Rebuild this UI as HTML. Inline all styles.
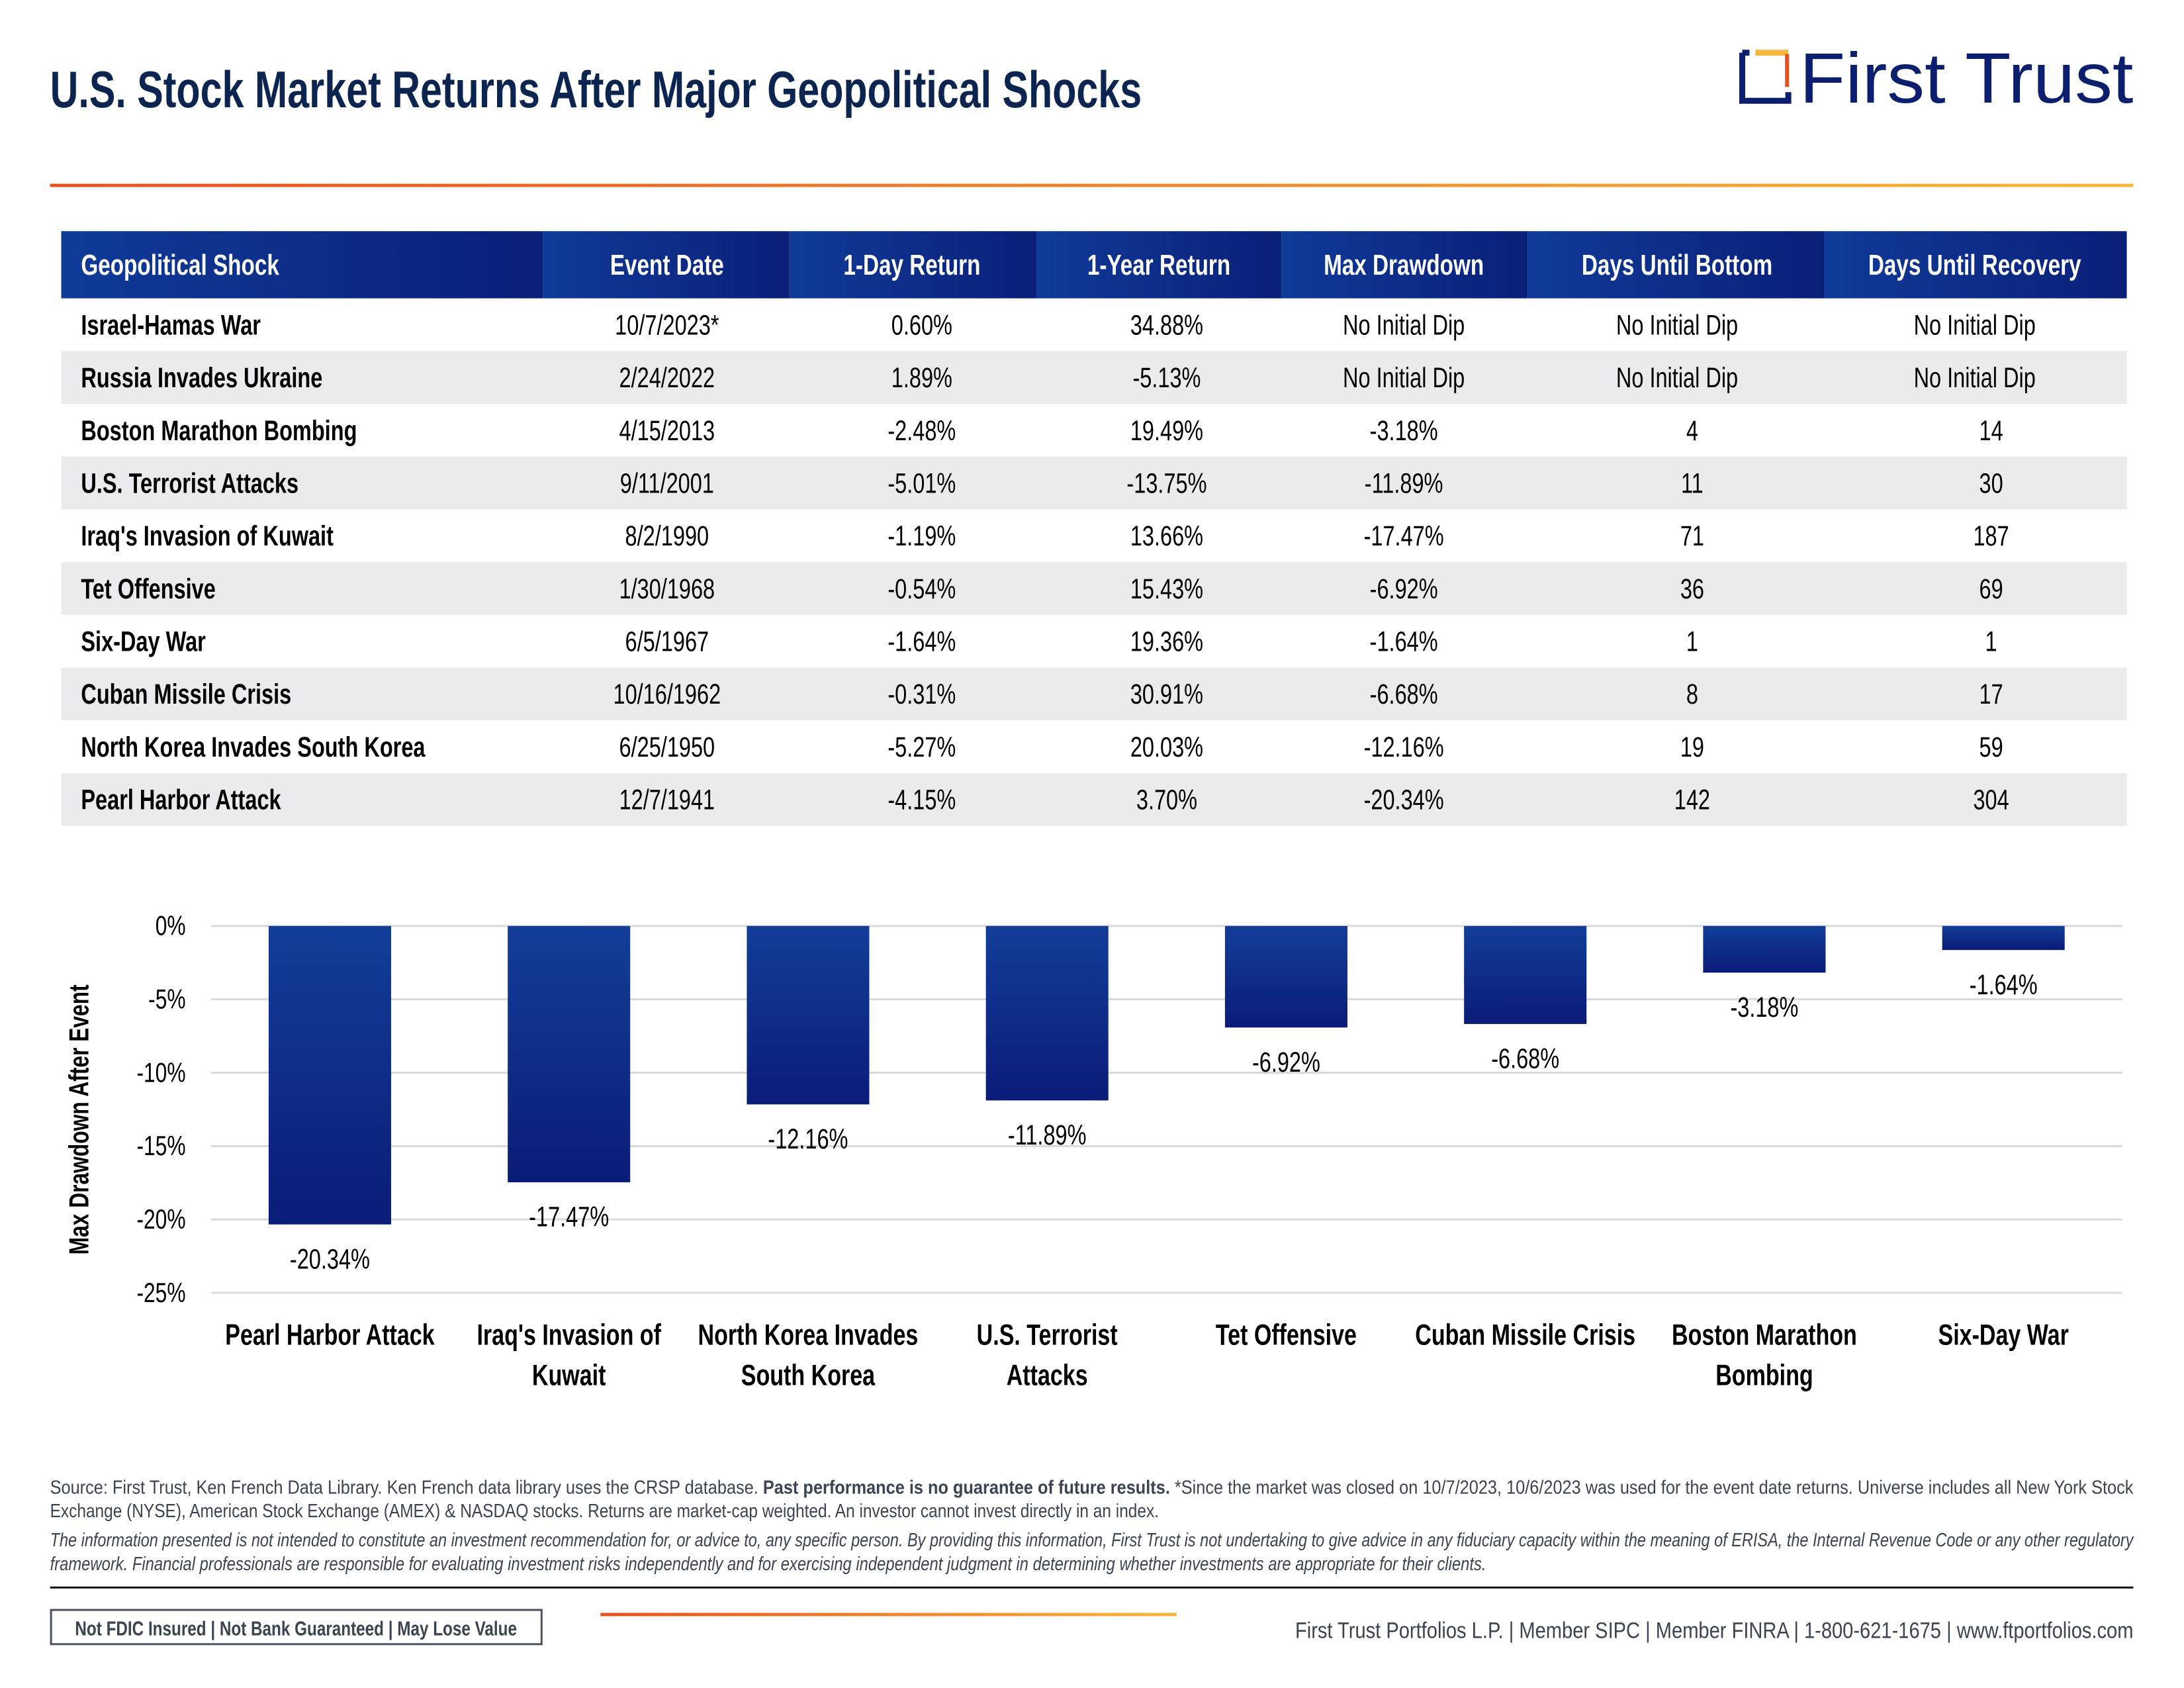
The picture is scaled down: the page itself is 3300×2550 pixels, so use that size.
<!DOCTYPE html>
<html><head><meta charset="utf-8"><style>
html,body{margin:0;padding:0;background:#fff;width:3300px;height:2550px;overflow:hidden}
svg{display:block}
text{font-family:"Liberation Sans Narrow","Liberation Sans",sans-serif}
.h{font-weight:bold;fill:#fff;font-size:44px}
.n{font-weight:bold;fill:#000;font-size:43px}
.v{fill:#000;font-size:43px}
.tk{fill:#000;font-size:42px}
.lb{fill:#000;font-size:43px}
.cat{font-weight:bold;fill:#000;font-size:45px}
.ft{fill:#3b4452;font-size:29px}
</style></head><body>
<svg width="3300" height="2550" viewBox="0 0 3300 2550" xmlns="http://www.w3.org/2000/svg">
<defs>
<linearGradient id="og" x1="0" x2="1" y1="0" y2="0"><stop offset="0" stop-color="#e5511f"/><stop offset="1" stop-color="#f6b73c"/></linearGradient>
<linearGradient id="hg" x1="0" x2="1" y1="0" y2="0"><stop offset="0" stop-color="#0f3b98"/><stop offset="1" stop-color="#0a1f78"/></linearGradient>
<linearGradient id="bg" x1="0" x2="0" y1="0" y2="1"><stop offset="0" stop-color="#123e98"/><stop offset="1" stop-color="#0a1c78"/></linearGradient>
</defs>
<g transform="scale(0.9949)">
<text x="76" y="163" font-size="78" font-weight="bold" fill="#0b2550" textLength="1658" lengthAdjust="spacingAndGlyphs">U.S. Stock Market Returns After Major Geopolitical Shocks</text>
<path d="M2646 80 L2646 153 L2716 153 L2716 140" stroke="#0b1f6e" stroke-width="9" fill="none"/>
<path d="M2646 80 L2657 80" stroke="#0b1f6e" stroke-width="9" fill="none"/>
<path d="M2666 80 L2716 80" stroke="#f6b73c" stroke-width="9" fill="none"/>
<path d="M2714 82 L2714 132" stroke="#e5511f" stroke-width="6" fill="none"/>
<text x="2733" y="156" font-size="108" fill="#0b1f6e" style="font-family:'Liberation Sans',sans-serif" textLength="507" lengthAdjust="spacingAndGlyphs">First Trust</text>
<rect x="76" y="279" width="3164" height="5" fill="url(#og)"/>
<g id="tbl">
<rect x="93" y="351" width="732" height="102" fill="url(#hg)"/>
<rect x="825" y="351" width="374" height="102" fill="url(#hg)"/>
<rect x="1199" y="351" width="375" height="102" fill="url(#hg)"/>
<rect x="1574" y="351" width="372" height="102" fill="url(#hg)"/>
<rect x="1946" y="351" width="374" height="102" fill="url(#hg)"/>
<rect x="2320" y="351" width="451" height="102" fill="url(#hg)"/>
<rect x="2771" y="351" width="459" height="102" fill="url(#hg)"/>
<g text-anchor="middle">
<text class="h c" x="123" y="417" text-anchor="start">Geopolitical Shock</text>
<text class="h c" x="1013" y="417">Event Date</text>
<text class="h c" x="1385" y="417">1-Day Return</text>
<text class="h c" x="1760" y="417">1-Year Return</text>
<text class="h c" x="2132" y="417">Max Drawdown</text>
<text class="h c" x="2547" y="417">Days Until Bottom</text>
<text class="h c" x="2999" y="417">Days Until Recovery</text>
</g>
</g>
<g id="rows"></g>
<g id="grid" stroke="#d9d9d9" stroke-width="3"></g>
<g id="bars"></g>
<text class="c" x="0" y="0" transform="translate(134,1700) rotate(-90)" text-anchor="middle" font-weight="bold" font-size="42" fill="#000">Max Drawdown After Event</text>
<text class="ft" x="76" y="2268" textLength="3164" lengthAdjust="spacingAndGlyphs">Source: First Trust, Ken French Data Library. Ken French data library uses the CRSP database. <tspan font-weight="bold">Past performance is no guarantee of future results.</tspan> *Since the market was closed on 10/7/2023, 10/6/2023 was used for the event date returns. Universe includes all New York Stock</text>
<text class="ft" x="76" y="2304" textLength="1684" lengthAdjust="spacingAndGlyphs">Exchange (NYSE), American Stock Exchange (AMEX) &amp; NASDAQ stocks. Returns are market-cap weighted. An investor cannot invest directly in an index.</text>
<text class="ft" x="76" y="2348" font-style="italic" textLength="3164" lengthAdjust="spacingAndGlyphs">The information presented is not intended to constitute an investment recommendation for, or advice to, any specific person. By providing this information, First Trust is not undertaking to give advice in any fiduciary capacity within the meaning of ERISA, the Internal Revenue Code or any other regulatory</text>
<text class="ft" x="76" y="2384" font-style="italic" textLength="2181" lengthAdjust="spacingAndGlyphs">framework. Financial professionals are responsible for evaluating investment risks independently and for exercising independent judgment in determining whether investments are appropriate for their clients.</text>
<rect x="76" y="2409" width="3164" height="3" fill="#111"/>
<rect x="77.5" y="2444.5" width="745" height="52" fill="none" stroke="#4a5260" stroke-width="3"/>
<text x="114" y="2483" font-size="31" font-weight="bold" fill="#3b4452" textLength="671" lengthAdjust="spacingAndGlyphs">Not FDIC Insured | Not Bank Guaranteed | May Lose Value</text>
<rect x="912" y="2449" width="875" height="5" fill="url(#og)"/>
<text x="1967" y="2487" font-size="34" fill="#3b4452" textLength="1273" lengthAdjust="spacingAndGlyphs">First Trust Portfolios L.P. | Member SIPC | Member FINRA | 1-800-621-1675 | www.ftportfolios.com</text>
</g>
</svg>
<script>
(function(){
var NS="http://www.w3.org/2000/svg";
function t(parent,cls,x,y,s,anchor){var e=document.createElementNS(NS,"text");e.setAttribute("class",cls+" c");e.setAttribute("x",x);e.setAttribute("y",y);if(anchor)e.setAttribute("text-anchor",anchor);e.textContent=s;parent.appendChild(e);return e;}
var rows=[
["Israel-Hamas War","10/7/2023*","0.60%","34.88%","No Initial Dip","No Initial Dip","No Initial Dip"],
["Russia Invades Ukraine","2/24/2022","1.89%","-5.13%","No Initial Dip","No Initial Dip","No Initial Dip"],
["Boston Marathon Bombing","4/15/2013","-2.48%","19.49%","-3.18%","4","14"],
["U.S. Terrorist Attacks","9/11/2001","-5.01%","-13.75%","-11.89%","11","30"],
["Iraq's Invasion of Kuwait","8/2/1990","-1.19%","13.66%","-17.47%","71","187"],
["Tet Offensive","1/30/1968","-0.54%","15.43%","-6.92%","36","69"],
["Six-Day War","6/5/1967","-1.64%","19.36%","-1.64%","1","1"],
["Cuban Missile Crisis","10/16/1962","-0.31%","30.91%","-6.68%","8","17"],
["North Korea Invades South Korea","6/25/1950","-5.27%","20.03%","-12.16%","19","59"],
["Pearl Harbor Attack","12/7/1941","-4.15%","3.70%","-20.34%","142","304"]];
var cx=[0,1013,1400,1772,2132,2570,3024];
var g=document.getElementById("rows");
rows.forEach(function(r,i){
 var y0=453+i*80.1;
 if(i%2==1){var rc=document.createElementNS(NS,"rect");rc.setAttribute("x",93);rc.setAttribute("y",y0);rc.setAttribute("width",3137);rc.setAttribute("height",80.1);rc.setAttribute("fill","#e9ebee");g.appendChild(rc);}
 var by=y0+55;
 t(g,"n",123,by,r[0],"start");
 for(var k=1;k<7;k++){var c=cx[k];if(r[k]=="No Initial Dip")c=(k==4?2132:k==5?2547:2999);t(g,"v",c,by,r[k],"middle");}
});
var gr=document.getElementById("grid");
for(var j=0;j<=5;j++){var y=1406+j*111.4;var l=document.createElementNS(NS,"line");l.setAttribute("x1",321);l.setAttribute("x2",3223);l.setAttribute("y1",y);l.setAttribute("y2",y);gr.appendChild(l);
 t(document.getElementById("bars"),"tk",282,y+14,(j==0?"0%":"-"+(j*5)+"%"),"end");}
var data=[["Pearl Harbor Attack","",20.34],["Iraq's Invasion of","Kuwait",17.47],["North Korea Invades","South Korea",12.16],["U.S. Terrorist","Attacks",11.89],["Tet Offensive","",6.92],["Cuban Missile Crisis","",6.68],["Boston Marathon","Bombing",3.18],["Six-Day War","",1.64]];
var bars=document.getElementById("bars");
data.forEach(function(d,i){
 var c=501+i*363.1;var h=d[2]/5*111.4;
 var rc=document.createElementNS(NS,"rect");rc.setAttribute("x",c-93);rc.setAttribute("y",1406);rc.setAttribute("width",186);rc.setAttribute("height",h);rc.setAttribute("fill","url(#bg)");bars.appendChild(rc);
 t(bars,"lb",c,1406+h+67,"-"+d[2].toFixed(2)+"%","middle");
 t(bars,"cat",c,2042,d[0],"middle");
 if(d[1])t(bars,"cat",c,2103,d[1],"middle");
});
var all=document.querySelectorAll("text.c");
for(var i=0;i<all.length;i++){var e=all[i];try{var L=e.getComputedTextLength();e.setAttribute("textLength",(L*0.76).toFixed(1));e.setAttribute("lengthAdjust","spacingAndGlyphs");}catch(x){}}
})();
</script>
</body></html>
